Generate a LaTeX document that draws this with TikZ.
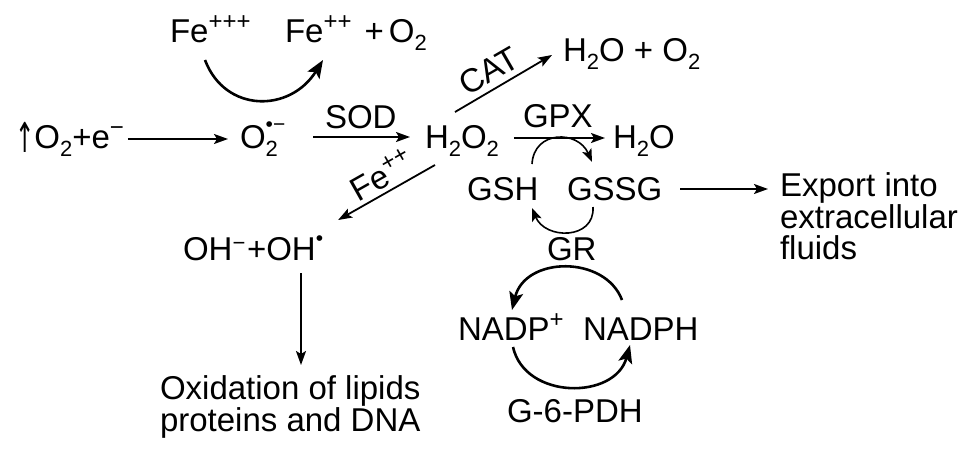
\documentclass[tikz,border=0pt]{standalone}
\usepackage{fontspec}
\setmainfont{Liberation Sans}
\newfontfamily\symfont{DejaVu Sans}
\usetikzlibrary{arrows.meta}
\newcommand{\dsub}[1]{\raisebox{-0.27em}{\fontsize{22}{22}\selectfont #1}}
\newcommand{\dsup}[1]{\raisebox{0.38em}{\fontsize{24}{24}\selectfont #1}}
\newcommand{\dsupl}[1]{\raisebox{0.30em}{\fontsize{22}{22}\selectfont #1}}
\begin{document}
\begin{tikzpicture}[x=1pt,y=-1pt,
  every node/.style={inner sep=0pt, outer sep=0pt, font=\fontsize{33}{31.5}\selectfont},
  lbl/.style={anchor=base west},
  blk/.style={anchor=north west, align=left},
  arr/.style={line width=1.8pt, -{Stealth[length=14pt,width=10pt,inset=3pt]}},
  carr/.style={line width=2.6pt, -{Stealth[length=18pt,width=14pt,inset=4pt]}}]
\fill[white] (0,0) rectangle (969,453);
% texts
\node[lbl] (fe3) at (170,42) {Fe\dsup{+++}};
\node[lbl] (fe2) at (285,42) {Fe\dsup{++}\hspace{0.4em}+\hspace{0.15em}O\dsub{2}};
\node[lbl] (o2e) at (15,148) {\raisebox{-0.15em}{\scalebox{0.7}[1.25]{\symfont ↑}}O\dsub{2}+e\dsup{−}};
\node[lbl] (sup) at (240,148) {O\rlap{\dsub{2}}\raisebox{0.5em}{\fontsize{21}{21}\selectfont •−}};
\node[lbl] (sod) at (325,128) {SOD};
\node[lbl] (h2o2) at (425,148) {H\dsub{2}O\dsub{2}};
\node[lbl] (h2oo2) at (563,61) {H\dsub{2}O + O\dsub{2}};
\node[rotate=30] (cat) at (489,71) {CAT};
\node[lbl] (gpx) at (523,127) {GPX};
\node[lbl] (h2o) at (613,148) {H\dsub{2}O};
\node[lbl] (gsh) at (467,200) {GSH};
\node[lbl] (gssg) at (567,200) {GSSG};
\node[blk] (export) at (780,173) {Export into\\extracellular\\fluids};
\node[rotate=29.5] (fe2lbl) at (381,175) {Fe\dsup{++}};
\node[lbl] (ohs) at (183,260) {OH\dsupl{−}\hspace{0.05em}+OH\raisebox{0.45em}{\fontsize{21}{21}\selectfont •}};
\node[blk] (oxid) at (160,376) {Oxidation of lipids\\proteins and DNA};
\node[lbl] (gr) at (547,260) {GR};
\node[lbl] (nadp) at (458,340) {NADP\dsup{+}};
\node[lbl] (nadph) at (583,340) {NADPH};
\node[lbl] (g6pdh) at (507,422) {G-6-PDH};
% straight arrows
\draw[arr] ([shift={(4,-9)}]o2e.base east) -- ([shift={(-12,-9)}]sup.base west);
\draw[arr] ([shift={(28,-11)}]sup.base east) -- ([shift={(-15,-11)}]h2o2.base west);
\draw[arr] ([shift={(30,-36)}]h2o2.base west) -- ([shift={(-11,-6)}]h2oo2.base west);
\draw[arr] ([shift={(15,-10)}]h2o2.base east) -- ([shift={(-8,-10)}]h2o.base west);
\draw[arr] ([shift={(10,17)}]h2o2.base west) -- ([shift={(15,-40)}]ohs.base east);
\draw[arr] ([shift={(18,-11)}]gssg.base east) -- ([shift={(-12,16)}]export.north west);
\draw[arr] ([shift={(118,13)}]ohs.base west) -- ([shift={(141,-11)}]oxid.north west);
% curved arrows
\draw[carr] ([shift={(35,18)}]fe3.base west) .. controls (225,113) and (290,113) .. ([shift={(38,18)}]fe2.base west);
\draw[line width=1.6pt, -{Stealth[length=13pt,width=10pt,inset=3pt]}] ([shift={(65,-36)}]gsh.base west) .. controls (534,130) and (578,130) .. ([shift={(25,-38)}]gssg.base west);
\draw[line width=1.6pt, -{Stealth[length=13pt,width=10pt,inset=3pt]}] ([shift={(26,7)}]gssg.base west) .. controls (595,240) and (545,240) .. ([shift={(65,8)}]gsh.base west);
\draw[carr] ([shift={(39,-40)}]nadph.base west) .. controls (605,255) and (525,256) .. ([shift={(54,-30)}]nadp.base west);
\draw[carr] ([shift={(55,7)}]nadp.base west) .. controls (525,400) and (615,400) .. ([shift={(47,5)}]nadph.base west);
\end{tikzpicture}
\end{document}
